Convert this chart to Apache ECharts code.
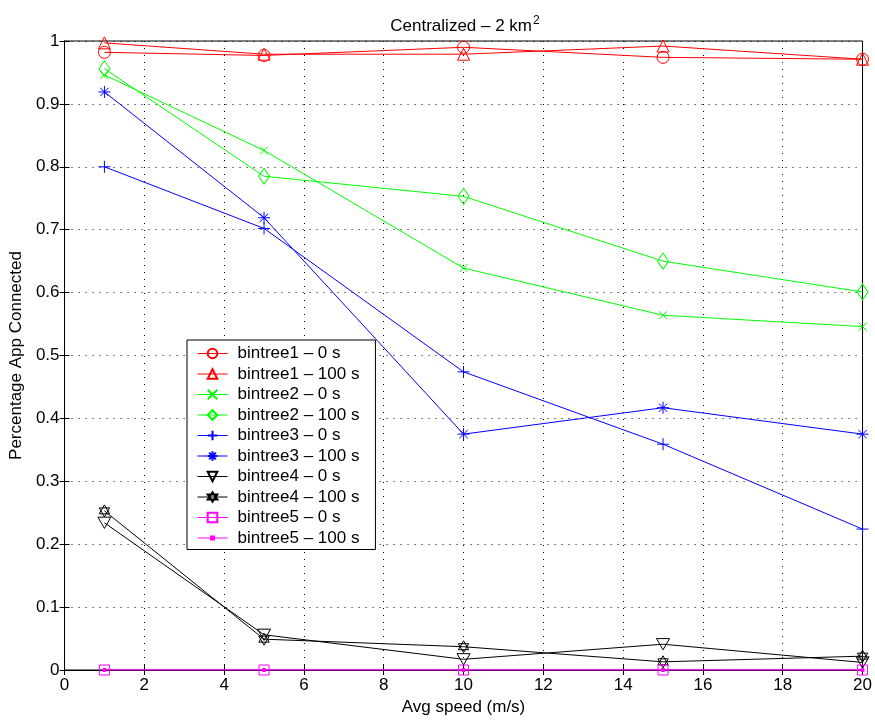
<!DOCTYPE html>
<html>
<head>
<meta charset="utf-8">
<script src="https://cdn.jsdelivr.net/npm/echarts@6/dist/echarts.min.js"></script>
<style>
  html, body { margin: 0; padding: 0; background: #fff; }
  #chart { width: 875px; height: 721px; }
</style>
</head>
<body>
<div id="chart"></div>
<script>
// Average node speed (m/s)
const speeds = [1, 5, 10, 15, 20];

// Fraction of applications connected, per tree and startup delay
const bintree1_0   = [0.982, 0.977, 0.990, 0.974, 0.971];
const bintree1_100 = [0.997, 0.979, 0.979, 0.992, 0.971];
const bintree2_0   = [0.946, 0.826, 0.639, 0.564, 0.546];
const bintree2_100 = [0.956, 0.785, 0.753, 0.650, 0.601];
const bintree3_0   = [0.800, 0.702, 0.474, 0.359, 0.224];
const bintree3_100 = [0.919, 0.719, 0.375, 0.417, 0.375];
const bintree4_0   = [0.234, 0.056, 0.017, 0.041, 0.012];
const bintree4_100 = [0.253, 0.049, 0.037, 0.013, 0.022];
const bintree5_0   = [0, 0, 0, 0, 0];
const bintree5_100 = [0, 0, 0, 0, 0];

const xTicks = [0, 2, 4, 6, 8, 10, 12, 14, 16, 18, 20];
const yTicks = [0, 0.1, 0.2, 0.3, 0.4, 0.5, 0.6, 0.7, 0.8, 0.9, 1];

// Marker outlines (the leading moves on "dot" keep its bounding box square)
const SYM = {
  cross: 'path://M0,0L10,10M10,0L0,10',
  plus: 'path://M5,0L5,10M0,5L10,5',
  star: 'path://M5,0L5,10M0,5L10,5M1.5,1.5L8.5,8.5M8.5,1.5L1.5,8.5',
  down: 'path://M0,0L10,0L5,8.66Z',
  hexagram: 'path://M5,0L9.33,7.5L0.67,7.5ZM5,10L0.67,2.5L9.33,2.5Z',
  diamond: 'path://M5,0L10,8L5,16L0,8Z',
  dot: 'path://M0,0M10,10M3.5,3.5L6.5,3.5L6.5,6.5L3.5,6.5Z'
};

function line(name, values, color, symbol, size, filled, keepAspect) {
  return {
    name: name,
    type: 'line',
    data: speeds.map((s, i) => [s, values[i]]),
    symbol: symbol,
    symbolSize: size,
    symbolKeepAspect: keepAspect !== false,
    showAllSymbol: true,
    lineStyle: { color: color, width: 1 },
    itemStyle: {
      color: filled ? color : 'rgba(0,0,0,0)',
      borderColor: color,
      borderWidth: 1
    },
    emphasis: { disabled: true },
    z: 3
  };
}

const RED = '#ff0000', GREEN = '#00ff00', BLUE = '#0000ff', BLACK = '#000000', MAGENTA = '#ff00ff';

const series = [
  line('bintree1 – 0 s',   bintree1_0,   RED,     'circle',     12, false),
  line('bintree1 – 100 s', bintree1_100, RED,     'triangle',   12, false),
  line('bintree2 – 0 s',   bintree2_0,   GREEN,   SYM.cross,     8, false),
  line('bintree2 – 100 s', bintree2_100, GREEN,   SYM.diamond,  [11, 16], false, false),
  line('bintree3 – 0 s',   bintree3_0,   BLUE,    SYM.plus,     12, false),
  line('bintree3 – 100 s', bintree3_100, BLUE,    SYM.star,     12, false),
  line('bintree4 – 0 s',   bintree4_0,   BLACK,   SYM.down,     13, false),
  line('bintree4 – 100 s', bintree4_100, BLACK,   SYM.hexagram, 12, false),
  line('bintree5 – 0 s',   bintree5_0,   MAGENTA, 'rect',       10, false),
  line('bintree5 – 100 s', bintree5_100, MAGENTA, SYM.dot,      10, true)
];

const FONT = '"Liberation Sans", Arial, Helvetica, sans-serif';
const FS = 17;
const dotted = { show: true, lineStyle: { color: '#000', width: 1, type: [1, 6] } };

const chart = echarts.init(document.getElementById('chart'), null, { renderer: 'canvas' });
chart.setOption({
  animation: false,
  backgroundColor: '#fff',
  textStyle: { fontFamily: FONT, color: '#000' },
  title: {
    text: 'Centralized – 2 km{sup|2}',
    left: 460,
    textAlign: 'center',
    top: 10,
    textStyle: {
      fontFamily: FONT, fontSize: FS, fontWeight: 'normal', color: '#000',
      rich: { sup: { fontFamily: FONT, fontSize: 12, color: '#000', verticalAlign: 'top', padding: [0, 0, 10, 1] } }
    }
  },
  grid: { left: 63, right: 11, top: 41, bottom: 51, show: true, borderColor: '#000', borderWidth: 1, backgroundColor: '#fff' },
  legend: {
    orient: 'vertical',
    left: 187,
    top: 340,
    padding: [5, 16, 3, 10],
    itemWidth: 30,
    itemHeight: 12,
    itemGap: 3.5,
    backgroundColor: '#fff',
    borderColor: '#000',
    borderWidth: 1,
    lineStyle: { width: 1 },
    textStyle: { fontFamily: FONT, fontSize: FS, color: '#000', padding: [0, 0, 0, 5] },
    data: series.map(s => s.name)
  },
  xAxis: [
    {
      type: 'value', min: xTicks[0], max: xTicks[xTicks.length - 1], interval: xTicks[1] - xTicks[0],
      name: 'Avg speed (m/s)', nameLocation: 'middle', nameGap: 29,
      nameTextStyle: { fontFamily: FONT, fontSize: FS, color: '#000' },
      axisLine: { show: true, lineStyle: { color: '#000' } },
      axisTick: { show: true, inside: true, length: 5, lineStyle: { color: '#000' } },
      axisLabel: { fontFamily: FONT, fontSize: FS, color: '#000', margin: 7 },
      splitLine: dotted
    },
    {
      type: 'value', position: 'top', min: xTicks[0], max: xTicks[xTicks.length - 1], interval: xTicks[1] - xTicks[0],
      axisLine: { show: true, lineStyle: { color: '#000' } },
      axisTick: { show: true, inside: true, length: 5, lineStyle: { color: '#000' } },
      axisLabel: { show: false }, splitLine: { show: false }
    }
  ],
  yAxis: [
    {
      type: 'value', min: yTicks[0], max: yTicks[yTicks.length - 1], interval: 0.1,
      name: 'Percentage App Connected', nameLocation: 'middle', nameGap: 35, nameRotate: 90,
      nameTextStyle: { fontFamily: FONT, fontSize: FS, color: '#000' },
      axisLine: { show: true, lineStyle: { color: '#000' } },
      axisTick: { show: true, inside: true, length: 5, lineStyle: { color: '#000' } },
      axisLabel: { fontFamily: FONT, fontSize: FS, color: '#000', margin: 5,
        formatter: v => String(Math.round(v * 10) / 10) },
      splitLine: dotted
    },
    {
      type: 'value', position: 'right', min: yTicks[0], max: yTicks[yTicks.length - 1], interval: 0.1,
      axisLine: { show: true, lineStyle: { color: '#000' } },
      axisTick: { show: true, inside: true, length: 5, lineStyle: { color: '#000' } },
      axisLabel: { show: false }, splitLine: { show: false }
    }
  ],
  series: series
});
</script>
</body>
</html>
